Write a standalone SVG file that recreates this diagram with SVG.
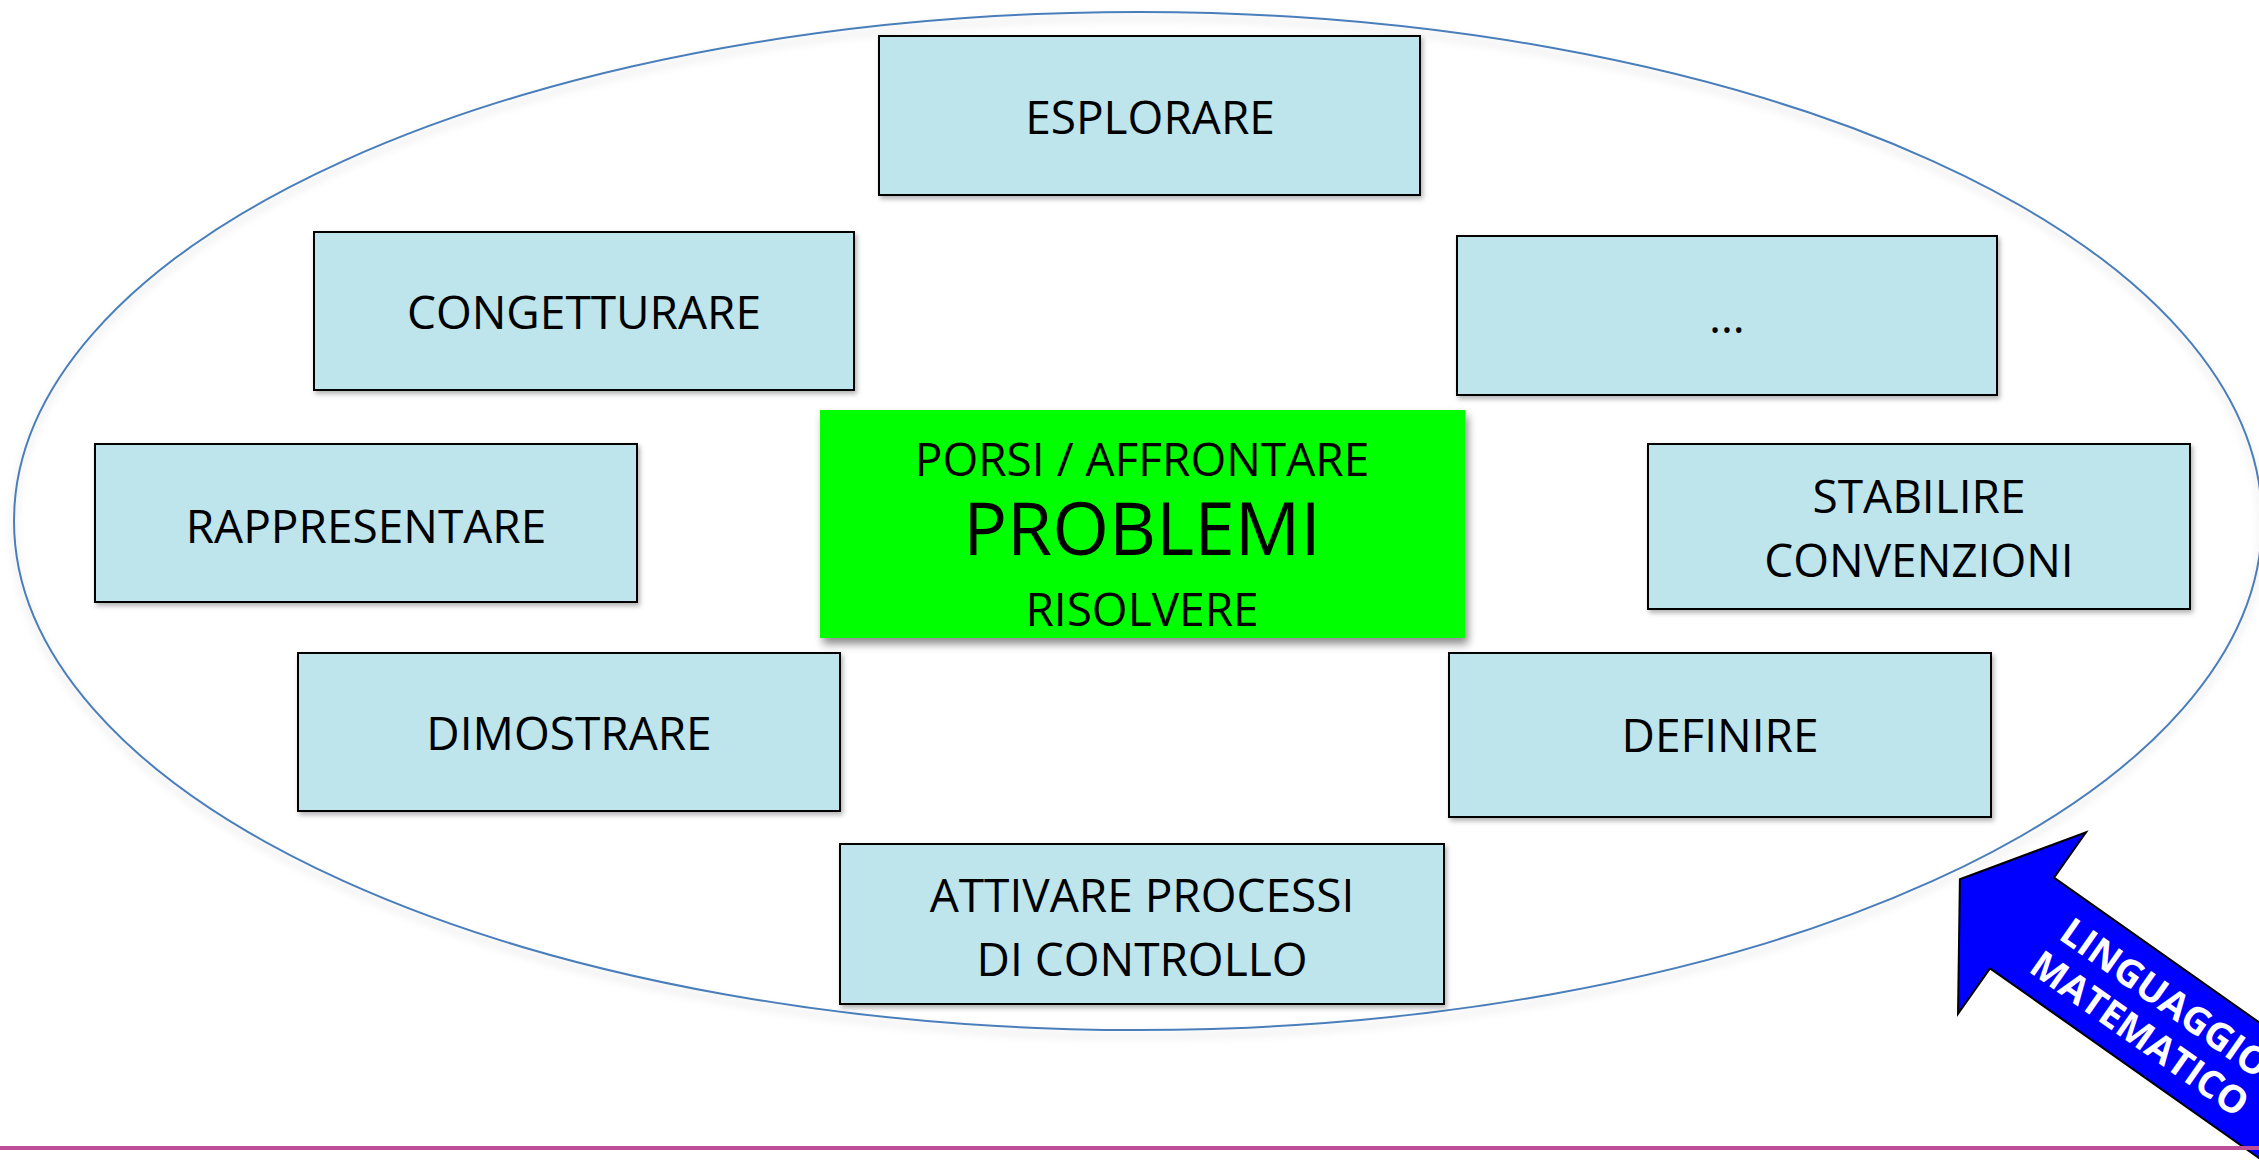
<svg xmlns="http://www.w3.org/2000/svg" width="2259" height="1160" viewBox="0 0 2259 1160">
  <defs>
    <filter id="shadow" x="-10%" y="-10%" width="120%" height="130%">
      <feDropShadow dx="2" dy="3" stdDeviation="2.5" flood-color="#000" flood-opacity="0.3"/>
    </filter>
    <filter id="shadow-strong" x="-10%" y="-10%" width="120%" height="130%">
      <feDropShadow dx="3" dy="6" stdDeviation="4" flood-color="#000" flood-opacity="0.45"/>
    </filter>
    <filter id="ring-shadow" x="-5%" y="-5%" width="110%" height="112%">
      <feDropShadow dx="0" dy="6" stdDeviation="4" flood-color="#000" flood-opacity="0.18"/>
    </filter>
  </defs>
  <style>
    .box { fill: #BEE5EC; stroke: #000; stroke-width: 2; filter: url(#shadow); }
    .core { fill: #00FF00; stroke: none; filter: url(#shadow-strong); }
    .lbl { font-family: "Open Sans", "Noto Sans", "Liberation Sans", sans-serif; font-size: 46px; fill: #000; text-anchor: middle; }
    .big { font-size: 73px; }
    .arrow-txt { font-family: "Open Sans", "Noto Sans", "Liberation Sans", sans-serif; font-size: 38px; font-weight: bold; fill: #fff; text-anchor: middle; }
  </style>

  <rect width="2259" height="1160" fill="#fff"/>

  <!-- outer ring enclosing all activities -->
  <ellipse id="ring" cx="1138" cy="521" rx="1124" ry="509" fill="none" stroke="#4A7EBB" stroke-width="2" filter="url(#ring-shadow)"/>

  <g id="esplorare">
    <rect class="box" x="879" y="36" width="541" height="159"/>
    <text class="lbl" x="1150" y="134">ESPLORARE</text>
  </g>

  <g id="congetturare">
    <rect class="box" x="314" y="232" width="540" height="158"/>
    <text class="lbl" x="584" y="329">CONGETTURARE</text>
  </g>

  <g id="altro">
    <rect class="box" x="1457" y="236" width="540" height="159"/>
    <text class="lbl" x="1727" y="333">…</text>
  </g>

  <g id="rappresentare">
    <rect class="box" x="95" y="444" width="542" height="158"/>
    <text class="lbl" x="366" y="543">RAPPRESENTARE</text>
  </g>

  <g id="problemi">
    <rect class="core" x="820" y="410" width="645" height="228"/>
    <text class="lbl" x="1142" y="476">PORSI / AFFRONTARE</text>
    <text class="lbl big" x="1142" y="555">PROBLEMI</text>
    <text class="lbl" x="1142" y="626">RISOLVERE</text>
  </g>

  <g id="stabilire-convenzioni">
    <rect class="box" x="1648" y="444" width="542" height="165"/>
    <text class="lbl" x="1919" y="513">STABILIRE</text>
    <text class="lbl" x="1919" y="577">CONVENZIONI</text>
  </g>

  <g id="dimostrare">
    <rect class="box" x="298" y="653" width="542" height="158"/>
    <text class="lbl" x="569" y="750">DIMOSTRARE</text>
  </g>

  <g id="definire">
    <rect class="box" x="1449" y="653" width="542" height="164"/>
    <text class="lbl" x="1720" y="752">DEFINIRE</text>
  </g>

  <g id="attivare-controllo">
    <rect class="box" x="840" y="844" width="604" height="160"/>
    <text class="lbl" x="1142" y="912">ATTIVARE PROCESSI</text>
    <text class="lbl" x="1142" y="976">DI CONTROLLO</text>
  </g>

  <!-- block arrow pointing into the ring -->
  <g id="linguaggio-matematico" transform="translate(2022,923) rotate(35.2)">
    <polygon points="-76,0 0,-111 0,-55.5 420,-55.5 420,55.5 0,55.5 0,111" fill="#0000FF" stroke="#000" stroke-width="2" stroke-linejoin="miter"/>
    <text class="arrow-txt" x="160" y="-8">LINGUAGGIO</text>
    <text class="arrow-txt" x="160" y="36">MATEMATICO</text>
  </g>

  <!-- footer rule -->
  <line x1="0" y1="1148" x2="2259" y2="1148" stroke="#BF4E9A" stroke-width="4"/>
</svg>
